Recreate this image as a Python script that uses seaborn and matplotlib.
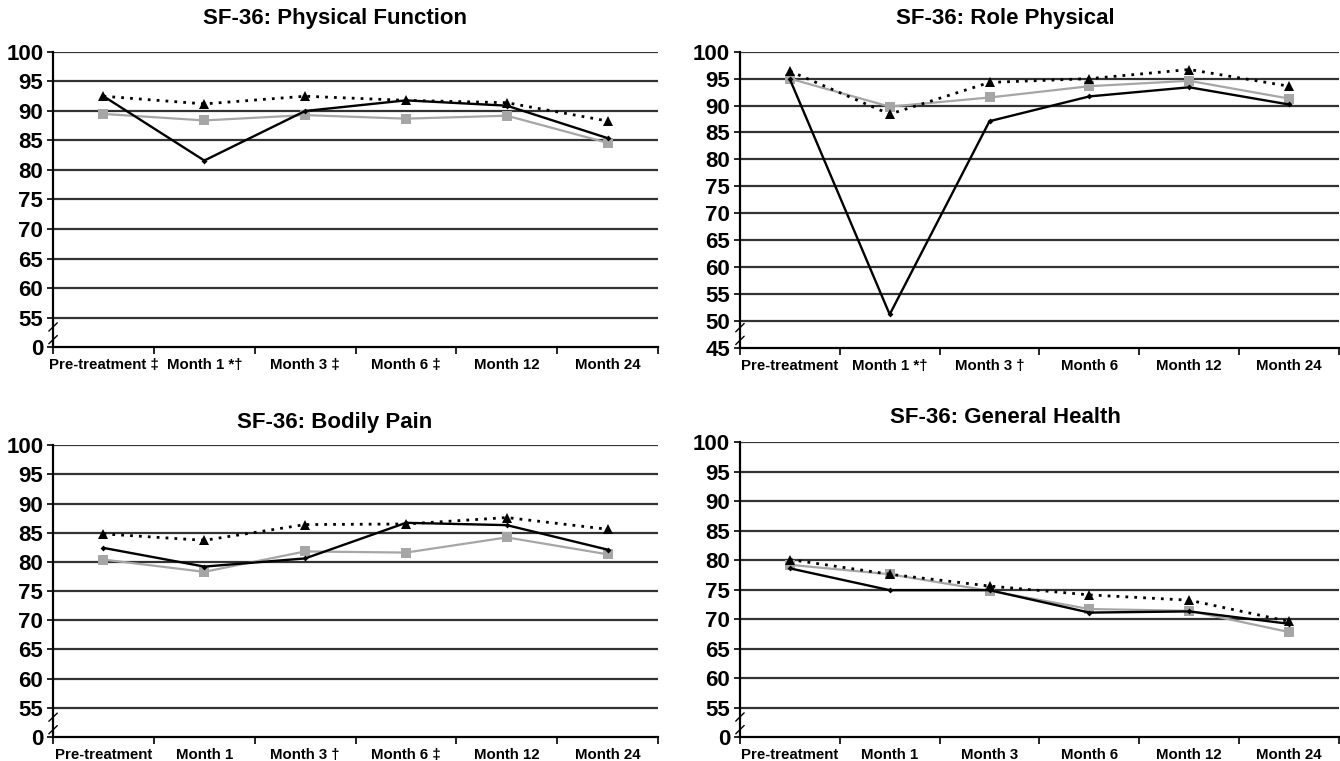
import matplotlib
matplotlib.use("Agg")
import matplotlib.pyplot as plt
import seaborn as sns
import pandas as pd

# ---------------- data ----------------
timepoints = ["Pre-treatment", "Month 1", "Month 3", "Month 6", "Month 12", "Month 24"]

pf_labels = ["Pre-treatment \u2021", "Month 1 *\u2020", "Month 3 \u2021", "Month 6 \u2021", "Month 12", "Month 24"]
rp_labels = ["Pre-treatment", "Month 1 *\u2020", "Month 3 \u2020", "Month 6", "Month 12", "Month 24"]
bp_labels = ["Pre-treatment", "Month 1", "Month 3 \u2020", "Month 6 \u2021", "Month 12", "Month 24"]
gh_labels = ["Pre-treatment", "Month 1", "Month 3", "Month 6", "Month 12", "Month 24"]

series_names = ["Group A", "Group B", "Group C"]  # solid black, grey, dotted black

pf_solid = [92.5, 81.6, 90.0, 91.8, 90.9, 85.4]
pf_grey = [89.5, 88.4, 89.3, 88.7, 89.2, 84.6]
pf_dotted = [92.5, 91.2, 92.5, 91.8, 91.4, 88.3]

rp_solid = [94.9, 51.2, 87.1, 91.7, 93.4, 90.2]
rp_grey = [95.0, 89.8, 91.5, 93.6, 94.6, 91.3]
rp_dotted = [96.4, 88.4, 94.3, 95.0, 96.7, 93.6]

bp_solid = [82.4, 79.2, 80.6, 86.7, 86.3, 82.1]
bp_grey = [80.4, 78.3, 81.8, 81.6, 84.2, 81.3]
bp_dotted = [84.8, 83.7, 86.4, 86.5, 87.6, 85.6]

gh_solid = [78.6, 74.9, 74.9, 71.1, 71.3, 69.2]
gh_grey = [79.2, 77.6, 74.8, 71.7, 71.4, 67.8]
gh_dotted = [80.1, 77.6, 75.6, 74.1, 73.2, 69.6]

panels = [
    ("SF-36: Physical Function", pf_labels, pf_solid, pf_grey, pf_dotted, 50, "0"),
    ("SF-36: Role Physical", rp_labels, rp_solid, rp_grey, rp_dotted, 45, "45"),
    ("SF-36: Bodily Pain", bp_labels, bp_solid, bp_grey, bp_dotted, 50, "0"),
    ("SF-36: General Health", gh_labels, gh_solid, gh_grey, gh_dotted, 50, "0"),
]

# ---------------- style ----------------
sns.set_style("white")
plt.rcParams["font.family"] = ["Liberation Sans", "DejaVu Sans"]
plt.rcParams["font.weight"] = "bold"
plt.rcParams["text.color"] = "black"
plt.rcParams["xtick.color"] = "black"
plt.rcParams["ytick.color"] = "black"
plt.rcParams["xtick.labelcolor"] = "black"
plt.rcParams["ytick.labelcolor"] = "black"

fig = plt.figure(figsize=(13.4, 7.61), dpi=100)

axes_rects = [
    [0.0396, 0.544, 0.4515, 0.3877],
    [0.5522, 0.543, 0.4470, 0.3890],
    [0.0396, 0.0315, 0.4515, 0.3835],
    [0.5522, 0.0315, 0.4470, 0.3875],
]
title_pos = [(0.25, 0.976), (0.75, 0.976), (0.25, 0.445), (0.75, 0.452)]

grid_color = "#333333"
grey = "#a6a6a6"

for (title, labels, solid, greyv, dotted, ymin, bottom_label), rect, tp in zip(panels, axes_rects, title_pos):
    ax = fig.add_axes(rect)
    df = pd.DataFrame({
        "pos": list(range(len(timepoints))) * 3,
        "score": list(solid) + list(greyv) + list(dotted),
        "series": [series_names[0]] * 6 + [series_names[1]] * 6 + [series_names[2]] * 6,
    })

    # gridlines
    ticks = list(range(ymin, 101, 5))
    for t in ticks[1:]:
        ax.axhline(t, color=grid_color, lw=1.6, zorder=1)

    sns.lineplot(data=df[df.series == series_names[1]], x="pos", y="score", ax=ax,
                 color=grey, lw=1.6, marker="s", markersize=6.5, markeredgewidth=0,
                 zorder=3, legend=False)
    sns.lineplot(data=df[df.series == series_names[0]], x="pos", y="score", ax=ax,
                 color="black", lw=1.7, marker="D", markersize=3, markeredgewidth=0,
                 zorder=4, legend=False)
    sns.lineplot(data=df[df.series == series_names[2]], x="pos", y="score", ax=ax,
                 color="black", lw=2.0, linestyle=(0, (1, 2.2)), marker="^", markersize=7.5,
                 markeredgewidth=0, zorder=5, legend=False)

    ax.set_xlim(-0.5, 5.5)
    ax.set_ylim(ymin, 100)
    ax.set_xlabel("")
    ax.set_ylabel("")

    ax.set_yticks(ticks)
    ylabels = [str(t) for t in ticks]
    ylabels[0] = bottom_label
    ax.set_yticklabels(ylabels, fontsize=16, fontweight="bold", color="black")
    ax.tick_params(axis="y", length=4, width=1.2, color="black", pad=3, left=True)

    ax.set_xticks(range(6))
    ax.set_xticklabels(labels, fontsize=10.8, fontweight="bold", color="black")
    ax.set_xticks([i - 0.5 for i in range(7)], minor=True)
    ax.tick_params(axis="x", which="major", length=0, pad=8)
    ax.tick_params(axis="x", which="minor", length=5, width=1.2, color="black", bottom=True)

    for s in ["top", "right"]:
        ax.spines[s].set_visible(False)
    for s in ["left", "bottom"]:
        ax.spines[s].set_color("black")
        ax.spines[s].set_linewidth(1.6)

    # axis break marks
    for fy in (0.025, 0.068):
        ax.plot([-0.007, 0.007], [fy - 0.014, fy + 0.014], transform=ax.transAxes,
                color="black", lw=1.0, clip_on=False, zorder=6)

    fig.text(tp[0], tp[1], title, ha="center", va="center", fontsize=16,
             fontweight="bold", color="black")

fig.savefig("out.png", dpi=100, facecolor="white")
